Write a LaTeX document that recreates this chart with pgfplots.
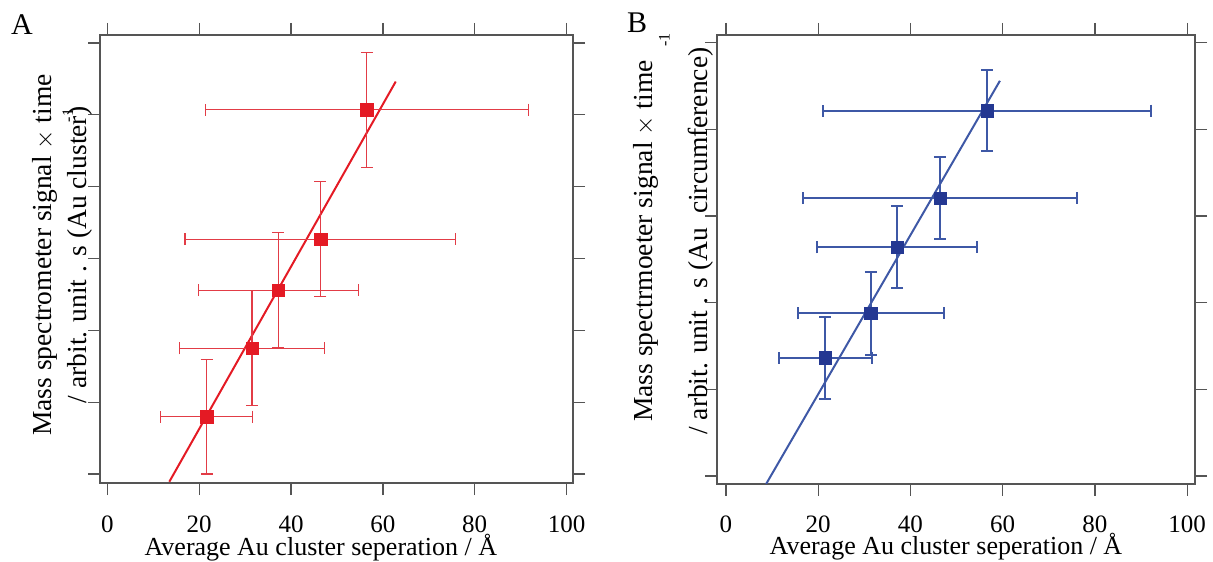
\documentclass[border=0pt]{standalone}
\usepackage{fontspec}
\setmainfont{Liberation Serif}
\usepackage{pgfplots}
\pgfplotsset{compat=1.18}

\definecolor{axisgray}{RGB}{85,85,85}
\definecolor{redm}{RGB}{228,26,36}
\definecolor{rederr}{RGB}{226,60,70}
\definecolor{bluem}{RGB}{36,56,146}
\definecolor{blueerr}{RGB}{62,88,166}

% left panel: x, x error, y, y error
\pgfplotstableread{
x    ex    y     ey
21.6 10.1  0.80  0.80
31.5 15.7  1.75  0.80
37.2 17.4  2.56  0.80
46.4 29.5  3.27  0.80
56.5 35.2  5.07  0.80
}\clusterdata

% right panel
\pgfplotstableread{
x    ex    y      ey
21.5 10.1  1.365  0.475
31.4 15.8  1.877  0.475
37.1 17.4  2.639  0.475
46.4 29.7  3.208  0.475
56.6 35.5  4.215  0.470
}\circdata

\pgfplotsset{
  panel/.style={
    scale only axis,
    anchor=south west,
    tick align=outside,
    major tick length=12pt,
    xtick={0,20,...,100},
    yticklabels={},
    axis line style={draw=axisgray, line width=1.3pt},
    tick style={draw=axisgray, line width=1.3pt},
    /pgf/number format/assume math mode=true,
    tick label style={font=\fontsize{25}{30}\selectfont},
    xticklabel style={anchor=base, yshift=-37pt, inner sep=0pt},
    xlabel style={font=\fontsize{26}{32}\selectfont, inner sep=0pt},
    ylabel style={font=\fontsize{27.5}{35}\selectfont},
    xlabel={Average Au cluster seperation / Å},
  },
}

\begin{document}
\begin{tikzpicture}[x=1pt,y=1pt]
\useasboundingbox (0,0) rectangle (1213,562);

\begin{axis}[panel,
  at={(100pt,79pt)}, width=473pt, height=448pt,
  xmin=-1.6, xmax=101.4, ymin=-0.125, ymax=6.11,
  ytick={0,1,...,6},
  xlabel style={at={(axis description cs:0.467,-0.161)}, anchor=base},
  ylabel style={at={(axis description cs:-0.008,0.509)}, anchor=south, align=center},
  ylabel={Mass spectrometer signal $\times$ time\\/ arbit. unit . s (Au cluster)\llap{\raisebox{0.5em}{\fontsize{16}{16}\selectfont -1}\kern2pt}},
]
\addplot[redm, line width=2pt] coordinates {(13.5,-0.107) (62.8,5.462)};
\addplot[only marks, mark=square*, mark size=6.3pt, color=redm,
  error bars/.cd, x dir=both, x explicit, y dir=both, y explicit,
  error bar style={rederr, line width=1.1pt},
  error mark options={rotate=90, rederr, line width=1.1pt, mark size=6pt}]
  table[x=x, y=y, x error=ex, y error=ey] {\clusterdata};
\end{axis}

\begin{axis}[panel,
  at={(717pt,78pt)}, width=478pt, height=449pt,
  xmin=-1.95, xmax=101.7, ymin=-0.092, ymax=5.089,
  ytick={0,1,...,5},
  xlabel style={at={(axis description cs:0.479,-0.158)}, anchor=base},
  ylabel style={at={(axis description cs:0,0.541)}, anchor=south, align=center},
  ylabel={Mass spectrmoeter signal $\times$ time\\/ arbit. unit . s (Au~~circumference)\rlap{\kern1pt\raisebox{38pt}{\fontsize{16}{16}\selectfont -1}}},
]
\addplot[blueerr, line width=2pt] coordinates {(8.7,-0.092) (59.4,4.561)};
\addplot[only marks, mark=square*, mark size=6.2pt, color=bluem,
  error bars/.cd, x dir=both, x explicit, y dir=both, y explicit,
  error bar style={blueerr, line width=2pt},
  error mark options={rotate=90, blueerr, line width=2pt, mark size=6pt}]
  table[x=x, y=y, x error=ex, y error=ey] {\circdata};
\end{axis}

\node[font=\fontsize{30}{30}\selectfont] at (22,537) {A};
\node[font=\fontsize{30}{30}\selectfont] at (637,539) {B};
\end{tikzpicture}
\end{document}
